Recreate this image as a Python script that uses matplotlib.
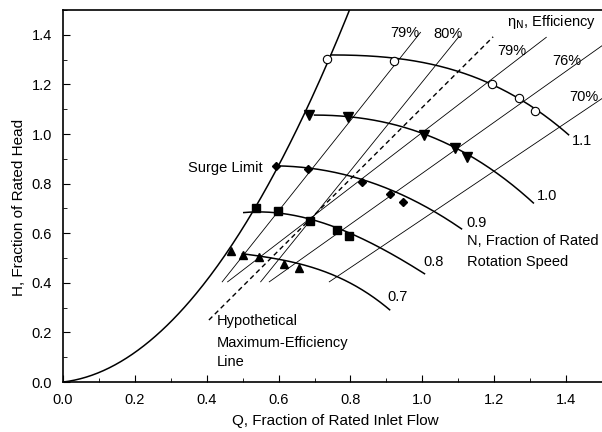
import numpy as np
import matplotlib
matplotlib.use("Agg")
import matplotlib.pyplot as plt
from matplotlib.ticker import MultipleLocator, FormatStrFormatter

plt.rcParams['font.family'] = ['Liberation Sans', 'DejaVu Sans']
plt.rcParams['mathtext.fontset'] = 'dejavusans'

# ---------------- data ----------------
surge_q = [0.0, 0.1, 0.2, 0.3, 0.4, 0.5, 0.6, 0.7, 0.8]
surge_h = [0.0, 0.038, 0.12, 0.243, 0.41, 0.62, 0.874, 1.17, 1.51]

n11_q = [0.746, 0.78, 0.83, 0.921, 1.0, 1.081, 1.195, 1.267, 1.314, 1.407]
n11_h = [1.312, 1.321, 1.325, 1.309, 1.283, 1.251, 1.207, 1.150, 1.097, 0.996]
n10_q = [0.700, 0.794, 0.895, 1.006, 1.114, 1.211, 1.309]
n10_h = [1.077, 1.068, 1.050, 0.996, 0.932, 0.835, 0.723]
n09_q = [0.594, 0.681, 0.760, 0.832, 0.885, 0.946, 1.044, 1.109]
n09_h = [0.872, 0.862, 0.845, 0.817, 0.792, 0.750, 0.680, 0.617]
n08_q = [0.503, 0.597, 0.687, 0.780, 0.885, 1.006]
n08_h = [0.681, 0.688, 0.655, 0.605, 0.546, 0.435]
n07_q = [0.499, 0.546, 0.653, 0.746, 0.830, 0.909]
n07_h = [0.516, 0.510, 0.479, 0.431, 0.378, 0.290]

circ_q = [0.735, 0.920, 1.195, 1.270, 1.314]
circ_h = [1.301, 1.294, 1.202, 1.146, 1.093]
tdn_q = [0.685, 0.794, 1.006, 1.090, 1.123]
tdn_h = [1.077, 1.068, 0.996, 0.945, 0.909]
diam_q = [0.594, 0.681, 0.832, 0.911, 0.946]
diam_h = [0.872, 0.859, 0.808, 0.759, 0.726]
sq_q = [0.536, 0.597, 0.687, 0.762, 0.796]
sq_h = [0.703, 0.688, 0.649, 0.612, 0.589]
tri_q = [0.468, 0.501, 0.546, 0.615, 0.656]
tri_h = [0.529, 0.512, 0.504, 0.476, 0.460]

eff_labels = ['79%', '80%', '79%', '76%', '70%']
eff_q0 = [0.443, 0.550, 0.458, 0.574, 0.741]
eff_h0 = [0.404, 0.404, 0.404, 0.404, 0.404]
eff_q1 = [0.995, 1.103, 1.345, 1.500, 1.500]
eff_h1 = [1.410, 1.395, 1.390, 1.356, 1.143]
eff_lab_q = [0.910, 1.030, 1.208, 1.362, 1.408]
eff_lab_h = [1.409, 1.403, 1.335, 1.294, 1.151]

maxeff_q = [0.406, 1.197]
maxeff_h = [0.250, 1.392]

speed_labels = ['1.1', '1.0', '0.9', '0.8', '0.7']
speed_lab_q = [1.415, 1.318, 1.123, 1.002, 0.902]
speed_lab_h = [0.970, 0.750, 0.643, 0.482, 0.341]


def smooth(xs, ys, deg=3, n=200):
    """Least-squares polynomial through the read points, for a smooth stroke."""
    c = np.polyfit(xs, ys, deg)
    x = np.linspace(min(xs), max(xs), n)
    return x, np.polyval(c, x)


fig = plt.figure(figsize=(6.02, 4.32), dpi=100)
ax = fig.add_axes([0.1047, 0.1157, 0.8953, 0.8611])
ax.set_xlim(0, 1.5)
ax.set_ylim(0, 1.5)

FS = 10.5

# efficiency lines
for q0, h0, q1, h1 in zip(eff_q0, eff_h0, eff_q1, eff_h1):
    ax.plot([q0, q1], [h0, h1], color='black', lw=0.6, zorder=1)
for lab, q, h in zip(eff_labels, eff_lab_q, eff_lab_h):
    ax.text(q, h, lab, fontsize=FS, ha='left', va='center', zorder=3)
ax.plot(maxeff_q, maxeff_h, color='black', lw=1.0, ls=(0, (3.5, 2.5)), zorder=2)

# surge line
sx, sy = smooth(surge_q, surge_h, deg=3)
ax.plot(sx, sy, color='black', lw=1.1, zorder=2)

# speed lines
for q, h in [(n11_q, n11_h), (n10_q, n10_h), (n09_q, n09_h), (n08_q, n08_h), (n07_q, n07_h)]:
    cx, cy = smooth(q, h, deg=3)
    ax.plot(cx, cy, color='black', lw=1.1, zorder=2)

# markers
ax.plot(circ_q, circ_h, 'o', ms=6, mfc='white', mec='black', mew=0.8, zorder=4)
ax.plot(tdn_q, tdn_h, 'v', ms=6.5, color='black', zorder=4)
ax.plot(diam_q, diam_h, 'D', ms=4.2, color='black', zorder=4)
ax.plot(sq_q, sq_h, 's', ms=6, color='black', zorder=4)
ax.plot(tri_q, tri_h, '^', ms=6, color='black', zorder=4)

for lab, q, h in zip(speed_labels, speed_lab_q, speed_lab_h):
    ax.text(q, h, lab, fontsize=FS, ha='left', va='center')

ax.text(1.123, 0.569, 'N, Fraction of Rated', fontsize=FS, ha='left', va='center')
ax.text(1.123, 0.482, 'Rotation Speed', fontsize=FS, ha='left', va='center')
ax.text(0.349, 0.865, 'Surge Limit', fontsize=FS, ha='left', va='center')
ax.text(0.429, 0.246, 'Hypothetical', fontsize=FS, ha='left', va='center')
ax.text(0.429, 0.159, 'Maximum-Efficiency', fontsize=FS, ha='left', va='center')
ax.text(0.429, 0.079, 'Line', fontsize=FS, ha='left', va='center')
ax.text(1.236, 1.450, r'η$_{\mathrm{N}}$, Efficiency', fontsize=FS, ha='left', va='center')

# axes styling
ax.spines['right'].set_visible(False)
for s in ['left', 'bottom', 'top']:
    ax.spines[s].set_linewidth(1.2)
ax.set_xticks(np.arange(0, 1.41, 0.2))
ax.set_yticks(np.arange(0, 1.41, 0.2))
ax.xaxis.set_minor_locator(MultipleLocator(0.1))
ax.yaxis.set_minor_locator(MultipleLocator(0.1))
ax.tick_params(which='both', direction='in', top=False, right=False, labelsize=10.5, pad=8)
ax.tick_params(which='major', length=5, width=0.8)
ax.tick_params(which='minor', length=3, width=0.6)
ax.xaxis.set_major_formatter(FormatStrFormatter('%.1f'))
ax.yaxis.set_major_formatter(FormatStrFormatter('%.1f'))

ax.set_xlabel('Q, Fraction of Rated Inlet Flow', fontsize=11)
ax.set_ylabel('H, Fraction of Rated Head', fontsize=11)
ax.xaxis.set_label_coords(0.505, -0.087)
ax.yaxis.set_label_coords(-0.069, 0.47)

fig.savefig('out.png', dpi=100)
